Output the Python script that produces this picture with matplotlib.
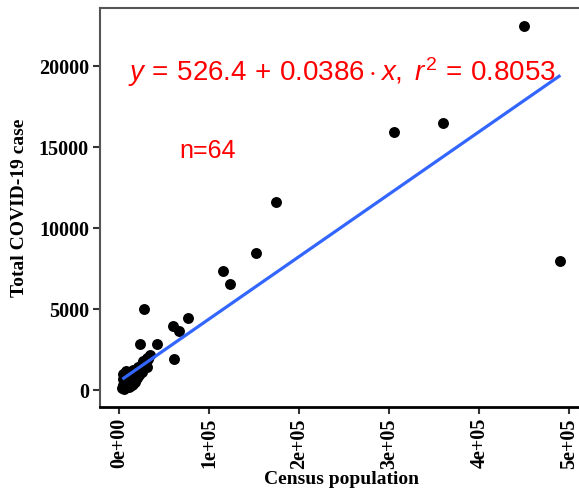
import matplotlib
matplotlib.use("Agg")
import matplotlib.pyplot as plt
import numpy as np

# ---- data ----
population = [450000, 360000, 305600, 490000, 174400, 152200, 115600, 123300,
              76700, 60000, 66700, 27800, 61100, 23300, 42200, 34400, 26700,
              21100, 15600, 10000, 4000, 31000,
              3800, 4200, 5000, 5500, 6000, 6800, 7200, 7800, 8500, 9000, 9500,
              10200, 10800, 11500, 12000, 12500, 13000, 13800, 14500, 15000,
              15800, 16500, 17000, 17800, 18500, 19500, 20000, 21000, 22000,
              23000, 24000, 25000, 26000, 27500, 29000, 31000, 32500, 4600,
              6500, 8000, 11000, 14000]
cases = [22500, 16500, 15950, 8000, 11600, 8460, 7350, 6540,
         4445, 3950, 3640, 5000, 1915, 2840, 2840, 2160, 1790,
         1420, 1235, 1050, 990, 1950,
         150, 320, 90, 450, 230, 600, 180, 380, 750, 300, 520,
         870, 420, 650, 250, 800, 1100, 550, 950, 380,
         700, 1150, 850, 500, 1050, 1300, 750, 1150, 950,
         1400, 1250, 1600, 1100, 1500, 1750, 1450, 1900, 700,
         1000, 1150, 180, 300]
intercept = 526.4
slope = 0.0386
r2 = 0.8053
n = 64
x_ticks = [0, 100000, 200000, 300000, 400000, 500000]
x_ticklabels = ["0e+00", "1e+05", "2e+05", "3e+05", "4e+05", "5e+05"]
y_ticks = [0, 5000, 10000, 15000, 20000]
y_ticklabels = ["0", "5000", "10000", "15000", "20000"]

plt.rcParams['mathtext.fontset'] = 'custom'
plt.rcParams['mathtext.rm'] = 'Liberation Sans'
plt.rcParams['mathtext.it'] = 'Liberation Sans:italic'

W, H = 579, 501
fig = plt.figure(figsize=(W / 100, H / 100), dpi=100)
ax = fig.add_axes([100 / W, 94 / H, 482 / W, 399 / H])

ax.scatter(population, cases, s=62, color='black', zorder=3, linewidths=0)
xs = np.array([min(population), max(population)])
ax.plot(xs, intercept + slope * xs, color='#3366FF', lw=2.3, zorder=4,
        solid_capstyle='butt')

ax.set_xlim(-21100, 514000)
ax.set_ylim(-1050, 23600)

serif = 'Liberation Serif'
ax.set_xticks(x_ticks)
ax.set_xticklabels(x_ticklabels, rotation=90, fontfamily=serif,
                   fontweight='bold', fontsize=14.5)
ax.set_yticks(y_ticks)
ax.set_yticklabels(y_ticklabels, fontfamily=serif, fontweight='bold',
                   fontsize=14.5)
ax.tick_params(axis='both', direction='out', length=5, width=1.5,
               color='#333333', pad=3)

ax.set_xlabel("Census population", fontfamily=serif, fontweight='bold',
              fontsize=14, labelpad=2)
ax.set_ylabel("Total COVID-19 case", fontfamily=serif, fontweight='bold',
              fontsize=14, labelpad=8)

for s in ['left', 'top', 'right']:
    ax.spines[s].set_color('#555555')
    ax.spines[s].set_linewidth(1.5)
ax.spines['bottom'].set_color('black')
ax.spines['bottom'].set_linewidth(2)

eq = (r"$y\,=\,%.1f\,+\,%.4f\cdot x,\ r^2\,=\,%.4f$" % (intercept, slope, r2))
t = fig.text(128 / W, 1 - 72 / H, eq, color='red', fontsize=20, ha='left',
             va='center')
fig.text(208 / W, 1 - 151 / H, "n=%d" % n, color='red', fontsize=18,
         fontfamily='Liberation Sans', ha='center', va='center')

fig.savefig("out.png", dpi=100)
